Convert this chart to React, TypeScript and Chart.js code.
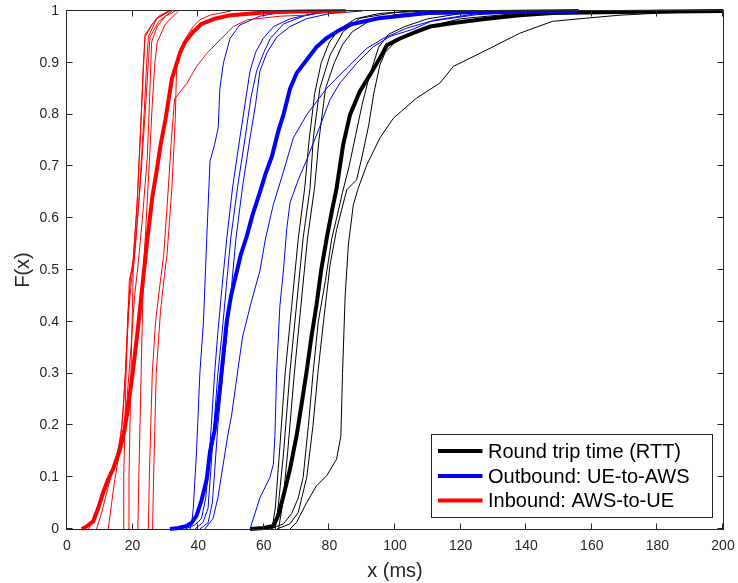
import { useEffect, useRef } from "react";
import { Chart, registerables } from "chart.js";

Chart.register(...registerables);

type P = [number, number];

// ---------- axis ticks ----------
const X_TICKS = [0, 20, 40, 60, 80, 100, 120, 140, 160, 180, 200];
const Y_TICKS = [0, 0.1, 0.2, 0.3, 0.4, 0.5, 0.6, 0.7, 0.8, 0.9, 1];
const Y_TICK_LABELS = ["0", "0.1", "0.2", "0.3", "0.4", "0.5", "0.6", "0.7", "0.8", "0.9", "1"];
const X_TITLE = "x (ms)";
const Y_TITLE = "F(x)";
const LEGEND_LABELS = ["Round trip time (RTT)", "Outbound: UE-to-AWS", "Inbound: AWS-to-UE"];

// ---------- Inbound (AWS-to-UE) ----------
const inboundMean: P[] = [[4.5,0],[6,0.005],[8,0.015],[9.5,0.04],[11,0.07],[12.5,0.095],[14,0.115],[16,0.15],[17.5,0.19],[18.5,0.23],[20,0.3],[21.5,0.38],[23,0.47],[24.5,0.56],[26,0.64],[27.3,0.69],[28.5,0.74],[30,0.79],[31,0.83],[32,0.87],[33,0.89],[34.5,0.92],[36,0.94],[38.5,0.96],[41,0.975],[45,0.985],[50,0.992],[60,0.997],[70,0.999],[85,1]];
const inbound1: P[] = [[6.5,0],[8,0.015],[10,0.045],[12,0.08],[13.5,0.11],[15,0.14],[16.2,0.17],[17,0.22],[17.8,0.3],[18.6,0.42],[19.4,0.49],[20.2,0.52],[21.3,0.62],[22.5,0.78],[23.3,0.9],[23.8,0.95],[26,0.975],[28,0.99],[31,1]];
const inbound2: P[] = [[9,0],[10.5,0.03],[12.5,0.08],[14,0.115],[15.5,0.15],[16.8,0.2],[17.8,0.3],[18.8,0.42],[19.8,0.49],[20.5,0.52],[22,0.64],[23.5,0.8],[24.3,0.9],[24.8,0.95],[27.3,0.985],[31.4,1]];
const inbound3: P[] = [[12.6,0],[13.6,0.05],[14.6,0.096],[15.5,0.13],[17,0.18],[18.3,0.25],[19.5,0.35],[20.6,0.45],[21.5,0.5],[23,0.6],[24.5,0.72],[25.3,0.85],[25.8,0.94],[27.5,0.97],[30,0.99],[33,1]];
const inbound4: P[] = [[17.2,0],[17.3,0.1],[18,0.3],[19,0.48],[20,0.505],[21.4,0.63],[22.8,0.82],[23.8,0.955],[27.3,0.986],[31.4,1]];
const inbound5: P[] = [[18.7,0],[18.9,0.1],[19.5,0.3],[20.2,0.5],[21,0.56],[22.5,0.68],[23.8,0.8],[24.8,0.9],[25.3,0.95],[28,0.98],[32,1]];
const inbound6: P[] = [[21.6,0],[21.9,0.1],[22.6,0.3],[23.3,0.5],[24.2,0.6],[25.2,0.72],[26,0.82],[26.8,0.9],[27.5,0.94],[30,0.975],[34,1]];
const inbound7: P[] = [[24.8,0],[25.1,0.1],[26,0.3],[27,0.4],[28.3,0.47],[29.5,0.53],[30.8,0.65],[31.8,0.75],[32.8,0.83],[36.5,0.86],[39.5,0.893],[42.6,0.918],[46.6,0.944],[50.7,0.97],[55,0.983],[65,0.99],[73,0.992],[74,1]];
const inbound8: P[] = [[26.1,0],[26.4,0.1],[27.2,0.3],[28.5,0.42],[29.9,0.5],[30.5,0.53],[32,0.66],[33,0.79],[33.4,0.89],[34.4,0.925],[36.5,0.951],[38.5,0.97],[40.5,0.983],[43.6,0.992],[50,1]];

// ---------- Outbound (UE-to-AWS) ----------
const outboundMean: P[] = [[31.4,0],[34,0.002],[36.5,0.006],[38,0.012],[39.5,0.026],[41,0.055],[42.6,0.096],[43.6,0.15],[45,0.19],[46.6,0.27],[48.7,0.4],[50,0.45],[51.7,0.495],[53,0.53],[54.8,0.565],[56.5,0.605],[58.8,0.65],[60.5,0.685],[62.5,0.72],[64.5,0.77],[66,0.8],[68,0.85],[70,0.88],[73,0.905],[76,0.93],[79,0.947],[83,0.963],[87,0.975],[95,0.986],[110,0.996],[130,0.998],[156,1]];
const outbound1: P[] = [[37.5,0],[38,0.01],[38.5,0.04],[39.5,0.15],[40.5,0.3],[41.6,0.4],[42.6,0.56],[43.6,0.71],[45,0.742],[46.1,0.775],[46.6,0.85],[47.7,0.9],[49.7,0.947],[52.7,0.973],[58.8,0.99],[65,0.997],[70,1]];
const outbound2: P[] = [[36,0],[39,0.008],[41,0.02],[42.3,0.06],[43,0.11],[44,0.2],[45,0.3],[46,0.38],[47.3,0.47],[48.7,0.56],[50.5,0.66],[52.7,0.755],[54.5,0.83],[55.8,0.884],[57.5,0.92],[59.8,0.947],[63,0.97],[68,0.985],[75,0.995],[85,1]];
const outbound3: P[] = [[39,0],[41.5,0.013],[43,0.04],[43.8,0.11],[44.8,0.2],[46,0.3],[47.3,0.38],[48.6,0.47],[49.9,0.56],[52,0.66],[54.3,0.755],[56,0.83],[57.8,0.884],[60,0.92],[62,0.947],[66,0.975],[72,0.99],[80,1]];
const outbound4: P[] = [[40.5,0],[43,0.012],[44.3,0.05],[45,0.11],[46,0.2],[47.5,0.3],[48.8,0.38],[50.2,0.47],[51.5,0.56],[53.5,0.66],[55.8,0.755],[57.5,0.82],[58.8,0.884],[61,0.92],[64,0.95],[68,0.97],[73,0.985],[80,0.995],[90,1]];
const outbound5: P[] = [[42,0],[44.5,0.02],[46,0.06],[47.5,0.12],[49,0.18],[50.2,0.22],[51.5,0.28],[53.5,0.37],[56,0.434],[58.8,0.498],[60.5,0.56],[62.9,0.626],[66,0.69],[69,0.755],[73.1,0.8],[79.2,0.851],[85.3,0.89],[91.4,0.928],[96.4,0.947],[103.6,0.967],[110.7,0.98],[125,0.993],[150,1]];
const outbound6: P[] = [[55.8,0],[58.8,0.06],[61.9,0.1],[62.9,0.125],[63.4,0.18],[63.9,0.3],[64.9,0.43],[66,0.5],[67,0.58],[68,0.63],[70.5,0.674],[73.1,0.713],[77.1,0.777],[80.2,0.829],[83.2,0.861],[88.3,0.899],[93.4,0.931],[98.5,0.951],[105.6,0.965],[111.7,0.982],[125,0.995],[140,1]];

// ---------- Round trip time (RTT) ----------
const rttMean: P[] = [[55.8,0],[60,0.002],[62.9,0.006],[64.4,0.026],[66,0.064],[68,0.116],[70,0.18],[71.5,0.24],[73.1,0.306],[74.5,0.37],[76.1,0.434],[77.5,0.5],[79.2,0.562],[80.8,0.615],[82.2,0.658],[84.2,0.742],[86.3,0.8],[89.3,0.845],[92.4,0.877],[95.4,0.909],[97.5,0.934],[101.5,0.947],[106.6,0.96],[110.7,0.97],[117.8,0.977],[128,0.985],[138,0.992],[148,0.996],[168,0.998],[200,1]];
const rtt1: P[] = [[63.5,0],[64.5,0.05],[66,0.145],[68,0.305],[70,0.434],[72,0.562],[74.1,0.658],[75.1,0.755],[77.1,0.851],[80.2,0.915],[84.2,0.96],[89.3,0.986],[100,0.997],[110,1]];
const rtt2: P[] = [[62.5,0],[63.5,0.04],[64.8,0.15],[66.5,0.3],[68.5,0.43],[70.5,0.56],[72.5,0.66],[73.8,0.75],[75.5,0.84],[77.5,0.9],[80,0.94],[83,0.965],[88,0.985],[95,0.995],[105,1]];
const rtt3: P[] = [[64.5,0],[65.8,0.05],[67.3,0.15],[69.3,0.3],[71.3,0.43],[73.3,0.56],[75.5,0.66],[76.8,0.75],[78.8,0.85],[81.5,0.9],[84,0.935],[87,0.96],[92,0.98],[100,0.993],[115,1]];
const rtt4: P[] = [[62,0],[66,0.01],[68.5,0.03],[70.5,0.06],[72,0.1],[73.6,0.2],[75,0.3],[76.6,0.4],[78.8,0.48],[80.7,0.56],[82.2,0.6],[84,0.65],[86,0.7],[88,0.76],[90,0.82],[92,0.87],[93.5,0.9],[95,0.93],[98,0.955],[103,0.97],[110,0.985],[120,0.995],[135,1]];
const rtt5: P[] = [[64,0],[68,0.01],[70.5,0.032],[73.1,0.1],[75,0.2],[76.6,0.308],[78.2,0.4],[80.2,0.51],[82.2,0.578],[85.3,0.655],[88.3,0.674],[90,0.72],[92,0.78],[93.5,0.84],[95.4,0.896],[97,0.92],[100,0.94],[104,0.955],[110,0.97],[120,0.985],[140,0.997],[160,1]];
const rtt6: P[] = [[68,0],[70,0.013],[73,0.05],[76,0.083],[79.2,0.103],[82.2,0.135],[83.5,0.18],[84,0.3],[84.8,0.45],[85.8,0.55],[87.3,0.626],[88.8,0.658],[91.4,0.703],[95.4,0.755],[99.5,0.793],[106.6,0.832],[113.7,0.861],[117.8,0.893],[128,0.925],[138,0.957],[148,0.98],[158,0.986],[168.6,0.992],[181,0.996],[200,1]];

const RED = "#ff0000";
const BLUE = "#0000ff";
const BLACK = "#000000";
const AXIS = "#262626";
const FONT = "'Liberation Sans', Arial, Helvetica, sans-serif";

const THIN = 1;
const THICK = 4;

function ds(data: P[], color: string, width: number) {
  return {
    data: data.map(([x, y]) => ({ x, y })),
    borderColor: color,
    backgroundColor: color,
    borderWidth: width,
    pointRadius: 0,
    tension: 0,
    fill: false,
    clip: false as const,
  };
}

// first dataset is drawn on top in Chart.js
const datasets = [
  ds(inboundMean, RED, THICK),
  ...[inbound1, inbound2, inbound3, inbound4, inbound5, inbound6, inbound7, inbound8].map((d) => ds(d, RED, THIN)),
  ds(outboundMean, BLUE, THICK),
  ...[outbound1, outbound2, outbound3, outbound4, outbound5, outbound6].map((d) => ds(d, BLUE, THIN)),
  ds(rttMean, BLACK, THICK),
  ...[rtt1, rtt2, rtt3, rtt4, rtt5, rtt6].map((d) => ds(d, BLACK, THIN)),
];

const framePlugin = {
  id: "matlabFrame",
  afterDatasetsDraw(chart: any) {
    const { ctx, chartArea: a, scales } = chart;
    ctx.save();
    ctx.strokeStyle = AXIS;
    ctx.lineWidth = 1;
    const L = a.left - 0.5, R = a.right + 0.5, T = a.top - 0.5, B = a.bottom + 0.5;
    ctx.strokeRect(L, T, R - L, B - T);
    const tl = 6;
    ctx.beginPath();
    for (const v of X_TICKS) {
      const px = Math.round(scales.x.getPixelForValue(v)) - 0.5;
      ctx.moveTo(px, B); ctx.lineTo(px, B - tl);
      ctx.moveTo(px, T); ctx.lineTo(px, T + tl);
    }
    for (const v of Y_TICKS) {
      const py = Math.round(scales.y.getPixelForValue(v)) - 0.5;
      ctx.moveTo(L, py); ctx.lineTo(L + tl, py);
      ctx.moveTo(R, py); ctx.lineTo(R - tl, py);
    }
    ctx.stroke();

    // legend box
    const bx = 431.5, by = 434.5, bw = 281, bh = 83;
    ctx.fillStyle = "#ffffff";
    ctx.fillRect(bx, by, bw, bh);
    ctx.strokeStyle = AXIS;
    ctx.lineWidth = 1;
    ctx.strokeRect(bx, by, bw, bh);
    const colors = [BLACK, BLUE, RED];
    const rows = [451, 476, 500.5];
    ctx.font = `20px ${FONT}`;
    ctx.textBaseline = "middle";
    ctx.textAlign = "left";
    LEGEND_LABELS.forEach((label, i) => {
      ctx.strokeStyle = colors[i];
      ctx.lineWidth = 4;
      ctx.beginPath();
      ctx.moveTo(438, rows[i]);
      ctx.lineTo(482.5, rows[i]);
      ctx.stroke();
      ctx.fillStyle = "#000000";
      ctx.fillText(label, 488, rows[i] + 1);
    });
    ctx.restore();
  },
};

export default function App() {
  const ref = useRef<HTMLCanvasElement>(null);
  useEffect(() => {
    const chart = new Chart(ref.current as HTMLCanvasElement, {
      type: "line",
      data: { datasets: datasets as any },
      options: {
        animation: false,
        responsive: false,
        devicePixelRatio: 1,
        parsing: false as any,
        layout: { padding: { top: 11, right: 15, left: 0, bottom: 0 } },
        plugins: { legend: { display: false }, tooltip: { enabled: false } },
        scales: {
          x: {
            type: "linear",
            min: 0,
            max: 200,
            afterBuildTicks: (s: any) => { s.ticks = X_TICKS.map((v) => ({ value: v })); },
            afterFit: (s: any) => { s.height = 54; s.paddingLeft = 0; s.paddingRight = 0; },
            grid: { display: false, drawTicks: false },
            border: { display: false },
            ticks: {
              color: AXIS,
              font: { family: FONT, size: 14 },
              padding: 9,
              maxRotation: 0,
              autoSkip: false,
              callback: (v: any) => String(v),
            },
            title: {
              display: true,
              text: X_TITLE,
              color: AXIS,
              font: { family: FONT, size: 20 },
              padding: { top: 1, bottom: 0 },
            },
          },
          y: {
            type: "linear",
            min: 0,
            max: 1,
            afterBuildTicks: (s: any) => { s.ticks = Y_TICKS.map((v) => ({ value: v })); },
            afterFit: (s: any) => { s.width = 67; s.paddingTop = 0; s.paddingBottom = 0; },
            grid: { display: false, drawTicks: false },
            border: { display: false },
            ticks: {
              color: AXIS,
              font: { family: FONT, size: 14 },
              padding: 8,
              autoSkip: false,
              callback: (_v: any, i: number) => Y_TICK_LABELS[i],
            },
            title: {
              display: true,
              text: Y_TITLE,
              color: AXIS,
              font: { family: FONT, size: 20 },
              padding: { top: 11, bottom: 0 },
            },
          },
        },
      } as any,
      plugins: [framePlugin],
    });
    return () => chart.destroy();
  }, []);
  return (
    <div style={{ position: "absolute", left: 0, top: 0, width: 738, height: 583, background: "#fff" }}>
      <canvas ref={ref} width={738} height={583} style={{ display: "block", width: 738, height: 583 }} />
    </div>
  );
}
